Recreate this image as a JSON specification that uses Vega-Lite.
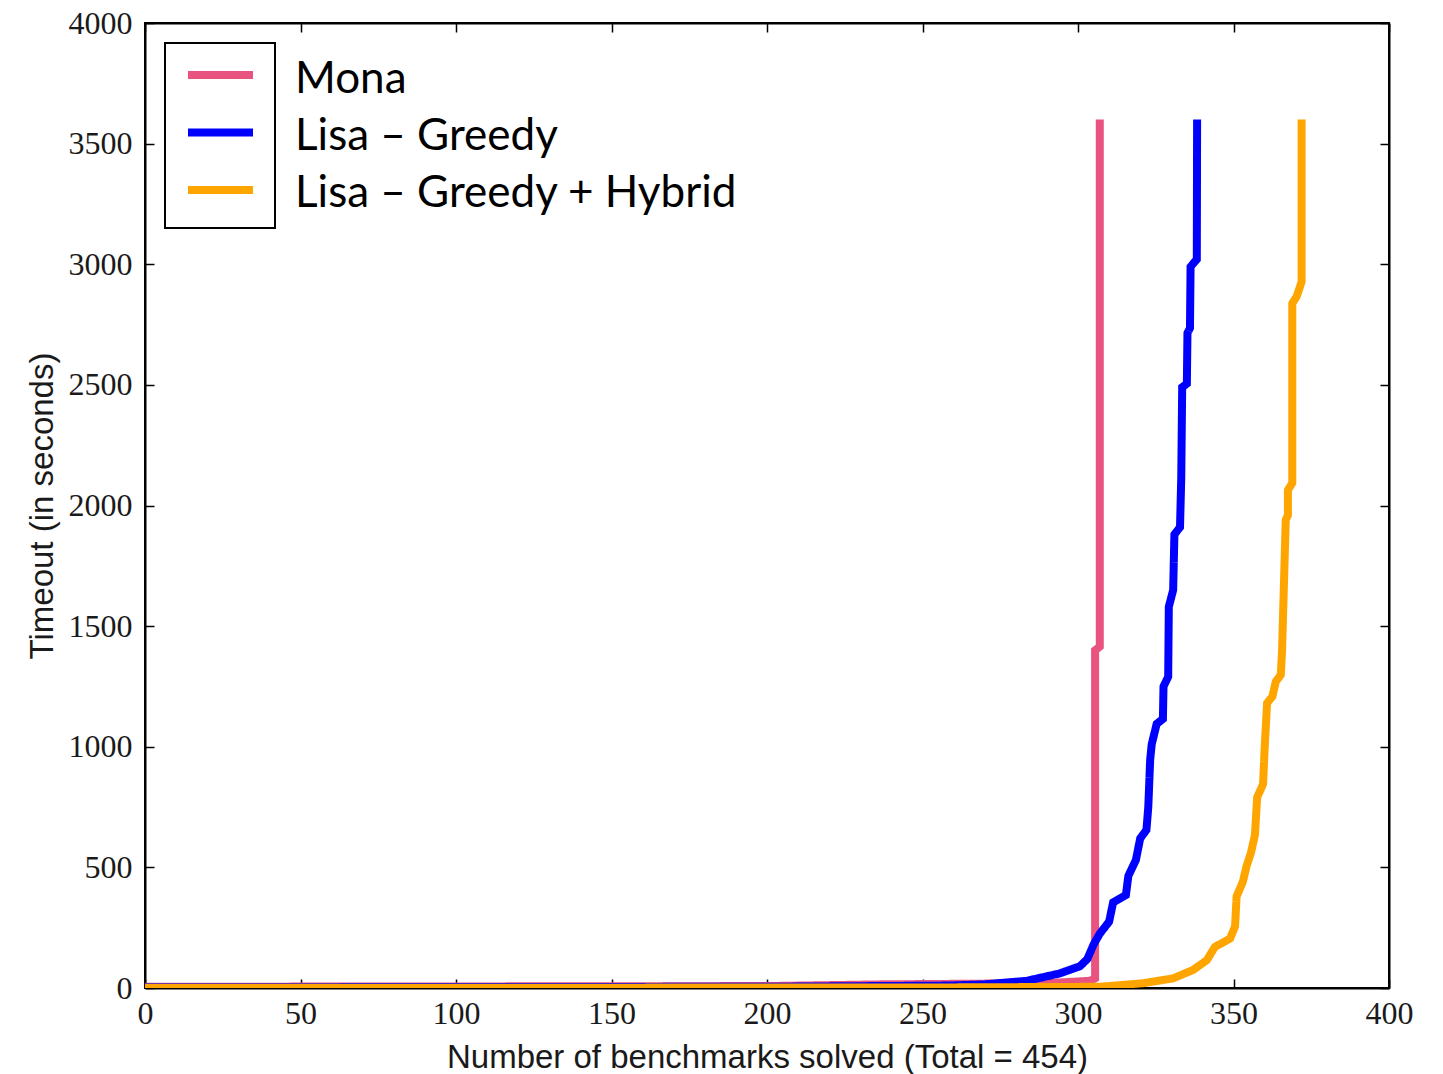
{
  "$schema": "https://vega.github.io/schema/vega-lite/v6.json",
  "width": 1244,
  "height": 965,
  "autosize": "none",
  "padding": {"left": 145, "top": 23, "right": 54, "bottom": 86},
  "background": "white",
  "config": {
    "view": {"stroke": "black", "strokeWidth": 2},
    "axis": {
      "grid": false,
      "domainColor": "black",
      "domainWidth": 2,
      "tickColor": "black",
      "tickWidth": 1.5,
      "tickSize": -9,
      "labelFont": "Liberation Serif",
      "labelFontSize": 32,
      "labelColor": "#1a1a1a",
      "labelFlush": false,
      "labelOverlap": false,
      "titleFont": "Liberation Sans",
      "titleFontSize": 33,
      "titleFontWeight": "normal",
      "titleColor": "#1a1a1a"
    }
  },
  "data": {
    "values": [
      {"series": "Mona", "name": "Mona ", "key": "Mona  ", "i": 0, "x": 0, "t": 5},
      {"series": "Mona", "name": "Mona ", "key": "Mona  ", "i": 1, "x": 200, "t": 8},
      {"series": "Mona", "name": "Mona ", "key": "Mona  ", "i": 2, "x": 236, "t": 15},
      {"series": "Mona", "name": "Mona ", "key": "Mona  ", "i": 3, "x": 290, "t": 20},
      {"series": "Mona", "name": "Mona ", "key": "Mona  ", "i": 4, "x": 304, "t": 30},
      {"series": "Mona", "name": "Mona ", "key": "Mona  ", "i": 5, "x": 305.5, "t": 40},
      {"series": "Mona", "name": "Mona ", "key": "Mona  ", "i": 6, "x": 305.5, "t": 1400},
      {"series": "Mona", "name": "Mona ", "key": "Mona  ", "i": 7, "x": 307, "t": 1415},
      {"series": "Mona", "name": "Mona ", "key": "Mona  ", "i": 8, "x": 307, "t": 3600},

      {"series": "Lisa – Greedy", "name": "Lisa – Greedy ", "key": "Lisa – Greedy  ", "i": 0, "x": 0, "t": 3},
      {"series": "Lisa – Greedy", "name": "Lisa – Greedy ", "key": "Lisa – Greedy  ", "i": 1, "x": 200, "t": 5},
      {"series": "Lisa – Greedy", "name": "Lisa – Greedy ", "key": "Lisa – Greedy  ", "i": 2, "x": 258, "t": 10},
      {"series": "Lisa – Greedy", "name": "Lisa – Greedy ", "key": "Lisa – Greedy  ", "i": 3, "x": 270, "t": 15},
      {"series": "Lisa – Greedy", "name": "Lisa – Greedy ", "key": "Lisa – Greedy  ", "i": 4, "x": 283.6, "t": 30},
      {"series": "Lisa – Greedy", "name": "Lisa – Greedy ", "key": "Lisa – Greedy  ", "i": 5, "x": 294, "t": 60},
      {"series": "Lisa – Greedy", "name": "Lisa – Greedy ", "key": "Lisa – Greedy  ", "i": 6, "x": 300.6, "t": 90},
      {"series": "Lisa – Greedy", "name": "Lisa – Greedy ", "key": "Lisa – Greedy  ", "i": 7, "x": 303, "t": 120},
      {"series": "Lisa – Greedy", "name": "Lisa – Greedy ", "key": "Lisa – Greedy  ", "i": 8, "x": 305, "t": 180},
      {"series": "Lisa – Greedy", "name": "Lisa – Greedy ", "key": "Lisa – Greedy  ", "i": 9, "x": 307, "t": 225},
      {"series": "Lisa – Greedy", "name": "Lisa – Greedy ", "key": "Lisa – Greedy  ", "i": 10, "x": 310, "t": 275},
      {"series": "Lisa – Greedy", "name": "Lisa – Greedy ", "key": "Lisa – Greedy  ", "i": 11, "x": 311.3, "t": 355},
      {"series": "Lisa – Greedy", "name": "Lisa – Greedy ", "key": "Lisa – Greedy  ", "i": 12, "x": 315.4, "t": 385},
      {"series": "Lisa – Greedy", "name": "Lisa – Greedy ", "key": "Lisa – Greedy  ", "i": 13, "x": 316.2, "t": 465},
      {"series": "Lisa – Greedy", "name": "Lisa – Greedy ", "key": "Lisa – Greedy  ", "i": 14, "x": 318.6, "t": 530},
      {"series": "Lisa – Greedy", "name": "Lisa – Greedy ", "key": "Lisa – Greedy  ", "i": 15, "x": 320, "t": 620},
      {"series": "Lisa – Greedy", "name": "Lisa – Greedy ", "key": "Lisa – Greedy  ", "i": 16, "x": 322, "t": 655},
      {"series": "Lisa – Greedy", "name": "Lisa – Greedy ", "key": "Lisa – Greedy  ", "i": 17, "x": 322.6, "t": 750},
      {"series": "Lisa – Greedy", "name": "Lisa – Greedy ", "key": "Lisa – Greedy  ", "i": 18, "x": 323.2, "t": 945},
      {"series": "Lisa – Greedy", "name": "Lisa – Greedy ", "key": "Lisa – Greedy  ", "i": 19, "x": 323.7, "t": 1010},
      {"series": "Lisa – Greedy", "name": "Lisa – Greedy ", "key": "Lisa – Greedy  ", "i": 20, "x": 325.3, "t": 1095},
      {"series": "Lisa – Greedy", "name": "Lisa – Greedy ", "key": "Lisa – Greedy  ", "i": 21, "x": 327.3, "t": 1115},
      {"series": "Lisa – Greedy", "name": "Lisa – Greedy ", "key": "Lisa – Greedy  ", "i": 22, "x": 327.5, "t": 1250},
      {"series": "Lisa – Greedy", "name": "Lisa – Greedy ", "key": "Lisa – Greedy  ", "i": 23, "x": 329, "t": 1290},
      {"series": "Lisa – Greedy", "name": "Lisa – Greedy ", "key": "Lisa – Greedy  ", "i": 24, "x": 329.2, "t": 1580},
      {"series": "Lisa – Greedy", "name": "Lisa – Greedy ", "key": "Lisa – Greedy  ", "i": 25, "x": 330.6, "t": 1650},
      {"series": "Lisa – Greedy", "name": "Lisa – Greedy ", "key": "Lisa – Greedy  ", "i": 26, "x": 331, "t": 1880},
      {"series": "Lisa – Greedy", "name": "Lisa – Greedy ", "key": "Lisa – Greedy  ", "i": 27, "x": 332.8, "t": 1910},
      {"series": "Lisa – Greedy", "name": "Lisa – Greedy ", "key": "Lisa – Greedy  ", "i": 28, "x": 333.2, "t": 2115},
      {"series": "Lisa – Greedy", "name": "Lisa – Greedy ", "key": "Lisa – Greedy  ", "i": 29, "x": 333.5, "t": 2490},
      {"series": "Lisa – Greedy", "name": "Lisa – Greedy ", "key": "Lisa – Greedy  ", "i": 30, "x": 335, "t": 2505},
      {"series": "Lisa – Greedy", "name": "Lisa – Greedy ", "key": "Lisa – Greedy  ", "i": 31, "x": 335.2, "t": 2715},
      {"series": "Lisa – Greedy", "name": "Lisa – Greedy ", "key": "Lisa – Greedy  ", "i": 32, "x": 336, "t": 2735},
      {"series": "Lisa – Greedy", "name": "Lisa – Greedy ", "key": "Lisa – Greedy  ", "i": 33, "x": 336.2, "t": 2990},
      {"series": "Lisa – Greedy", "name": "Lisa – Greedy ", "key": "Lisa – Greedy  ", "i": 34, "x": 338.2, "t": 3020},
      {"series": "Lisa – Greedy", "name": "Lisa – Greedy ", "key": "Lisa – Greedy  ", "i": 35, "x": 338.3, "t": 3600},

      {"series": "Lisa – Greedy + Hybrid", "name": "Lisa – Greedy + Hybrid ", "key": "Lisa – Greedy + Hybrid  ", "i": 0, "x": 0, "t": 1},
      {"series": "Lisa – Greedy + Hybrid", "name": "Lisa – Greedy + Hybrid ", "key": "Lisa – Greedy + Hybrid  ", "i": 1, "x": 150, "t": 1.5},
      {"series": "Lisa – Greedy + Hybrid", "name": "Lisa – Greedy + Hybrid ", "key": "Lisa – Greedy + Hybrid  ", "i": 2, "x": 250, "t": 2},
      {"series": "Lisa – Greedy + Hybrid", "name": "Lisa – Greedy + Hybrid ", "key": "Lisa – Greedy + Hybrid  ", "i": 3, "x": 307, "t": 5},
      {"series": "Lisa – Greedy + Hybrid", "name": "Lisa – Greedy + Hybrid ", "key": "Lisa – Greedy + Hybrid  ", "i": 4, "x": 321, "t": 20},
      {"series": "Lisa – Greedy + Hybrid", "name": "Lisa – Greedy + Hybrid ", "key": "Lisa – Greedy + Hybrid  ", "i": 5, "x": 330.6, "t": 40},
      {"series": "Lisa – Greedy + Hybrid", "name": "Lisa – Greedy + Hybrid ", "key": "Lisa – Greedy + Hybrid  ", "i": 6, "x": 337, "t": 75},
      {"series": "Lisa – Greedy + Hybrid", "name": "Lisa – Greedy + Hybrid ", "key": "Lisa – Greedy + Hybrid  ", "i": 7, "x": 341.4, "t": 115},
      {"series": "Lisa – Greedy + Hybrid", "name": "Lisa – Greedy + Hybrid ", "key": "Lisa – Greedy + Hybrid  ", "i": 8, "x": 344, "t": 170},
      {"series": "Lisa – Greedy + Hybrid", "name": "Lisa – Greedy + Hybrid ", "key": "Lisa – Greedy + Hybrid  ", "i": 9, "x": 348.9, "t": 205},
      {"series": "Lisa – Greedy + Hybrid", "name": "Lisa – Greedy + Hybrid ", "key": "Lisa – Greedy + Hybrid  ", "i": 10, "x": 350.5, "t": 255},
      {"series": "Lisa – Greedy + Hybrid", "name": "Lisa – Greedy + Hybrid ", "key": "Lisa – Greedy + Hybrid  ", "i": 11, "x": 351, "t": 380},
      {"series": "Lisa – Greedy + Hybrid", "name": "Lisa – Greedy + Hybrid ", "key": "Lisa – Greedy + Hybrid  ", "i": 12, "x": 353, "t": 440},
      {"series": "Lisa – Greedy + Hybrid", "name": "Lisa – Greedy + Hybrid ", "key": "Lisa – Greedy + Hybrid  ", "i": 13, "x": 354.2, "t": 505},
      {"series": "Lisa – Greedy + Hybrid", "name": "Lisa – Greedy + Hybrid ", "key": "Lisa – Greedy + Hybrid  ", "i": 14, "x": 355.6, "t": 560},
      {"series": "Lisa – Greedy + Hybrid", "name": "Lisa – Greedy + Hybrid ", "key": "Lisa – Greedy + Hybrid  ", "i": 15, "x": 356.9, "t": 635},
      {"series": "Lisa – Greedy + Hybrid", "name": "Lisa – Greedy + Hybrid ", "key": "Lisa – Greedy + Hybrid  ", "i": 16, "x": 357.6, "t": 790},
      {"series": "Lisa – Greedy + Hybrid", "name": "Lisa – Greedy + Hybrid ", "key": "Lisa – Greedy + Hybrid  ", "i": 17, "x": 359.5, "t": 845},
      {"series": "Lisa – Greedy + Hybrid", "name": "Lisa – Greedy + Hybrid ", "key": "Lisa – Greedy + Hybrid  ", "i": 18, "x": 360, "t": 990},
      {"series": "Lisa – Greedy + Hybrid", "name": "Lisa – Greedy + Hybrid ", "key": "Lisa – Greedy + Hybrid  ", "i": 19, "x": 360.8, "t": 1181},
      {"series": "Lisa – Greedy + Hybrid", "name": "Lisa – Greedy + Hybrid ", "key": "Lisa – Greedy + Hybrid  ", "i": 20, "x": 362.5, "t": 1208},
      {"series": "Lisa – Greedy + Hybrid", "name": "Lisa – Greedy + Hybrid ", "key": "Lisa – Greedy + Hybrid  ", "i": 21, "x": 363.6, "t": 1270},
      {"series": "Lisa – Greedy + Hybrid", "name": "Lisa – Greedy + Hybrid ", "key": "Lisa – Greedy + Hybrid  ", "i": 22, "x": 365.2, "t": 1298},
      {"series": "Lisa – Greedy + Hybrid", "name": "Lisa – Greedy + Hybrid ", "key": "Lisa – Greedy + Hybrid  ", "i": 23, "x": 365.6, "t": 1394},
      {"series": "Lisa – Greedy + Hybrid", "name": "Lisa – Greedy + Hybrid ", "key": "Lisa – Greedy + Hybrid  ", "i": 24, "x": 366.8, "t": 1940},
      {"series": "Lisa – Greedy + Hybrid", "name": "Lisa – Greedy + Hybrid ", "key": "Lisa – Greedy + Hybrid  ", "i": 25, "x": 367.5, "t": 1960},
      {"series": "Lisa – Greedy + Hybrid", "name": "Lisa – Greedy + Hybrid ", "key": "Lisa – Greedy + Hybrid  ", "i": 26, "x": 367.5, "t": 2064},
      {"series": "Lisa – Greedy + Hybrid", "name": "Lisa – Greedy + Hybrid ", "key": "Lisa – Greedy + Hybrid  ", "i": 27, "x": 368.9, "t": 2093},
      {"series": "Lisa – Greedy + Hybrid", "name": "Lisa – Greedy + Hybrid ", "key": "Lisa – Greedy + Hybrid  ", "i": 28, "x": 368.9, "t": 2838},
      {"series": "Lisa – Greedy + Hybrid", "name": "Lisa – Greedy + Hybrid ", "key": "Lisa – Greedy + Hybrid  ", "i": 29, "x": 370.3, "t": 2866},
      {"series": "Lisa – Greedy + Hybrid", "name": "Lisa – Greedy + Hybrid ", "key": "Lisa – Greedy + Hybrid  ", "i": 30, "x": 371.4, "t": 2908},
      {"series": "Lisa – Greedy + Hybrid", "name": "Lisa – Greedy + Hybrid ", "key": "Lisa – Greedy + Hybrid  ", "i": 31, "x": 371.9, "t": 2928},
      {"series": "Lisa – Greedy + Hybrid", "name": "Lisa – Greedy + Hybrid ", "key": "Lisa – Greedy + Hybrid  ", "i": 32, "x": 371.9, "t": 3600}
    ]
  },
  "layer": [
    {
      "mark": {"type": "line", "strokeWidth": 8, "clip": true, "strokeCap": "butt"},
      "encoding": {
        "x": {
          "field": "x", "type": "quantitative",
          "scale": {"domain": [0, 400], "nice": false, "zero": false},
          "axis": {
            "orient": "bottom",
            "values": [0, 50, 100, 150, 200, 250, 300, 350, 400],
            "labelPadding": 19,
            "title": "Number of benchmarks solved (Total = 454)",
            "titlePadding": 12
          }
        },
        "y": {
          "field": "t", "type": "quantitative",
          "scale": {"domain": [0, 4000], "nice": false},
          "axis": {
            "orient": "left",
            "format": "d",
            "values": [0, 500, 1000, 1500, 2000, 2500, 3000, 3500, 4000],
            "labelPadding": 22,
            "title": "Timeout (in seconds)",
            "titlePadding": 9
          }
        },
        "order": {"field": "i", "type": "quantitative"},
        "opacity": {
          "field": "key", "type": "nominal",
          "scale": {
            "domain": ["Mona  ", "Lisa – Greedy  ", "Lisa – Greedy + Hybrid  "],
            "range": [1, 1, 1]
          },
          "legend": {
            "orient": "none",
            "legendX": 20,
            "legendY": 20,
            "title": null,
            "padding": 0,
            "strokeColor": "black",
            "symbolType": "stroke",
            "symbolSize": 12100,
            "symbolStrokeWidth": 0,
            "symbolStrokeColor": "transparent",
            "symbolFillColor": "transparent",
            "labelExpr": "''",
            "labelFontSize": 1,
            "labelOffset": 0,
            "rowPadding": 10,
            "encode": {"legend": {"update": {"strokeWidth": {"value": 2}}}}
          }
        },
        "color": {
          "field": "series", "type": "nominal",
          "scale": {
            "domain": ["Mona", "Lisa – Greedy", "Lisa – Greedy + Hybrid"],
            "range": ["#E8537F", "#0000FF", "#FFA500"]
          },
          "legend": {
            "orient": "none",
            "legendX": 39,
            "legendY": 15.5,
            "title": null,
            "padding": 0,
            "symbolType": "stroke",
            "symbolStrokeWidth": 8,
            "symbolSize": 4225,
            "labelExpr": "''",
            "labelFontSize": 1,
            "labelOffset": 0,
            "rowPadding": 4.5
          }
        },
        "strokeDash": {
          "field": "name", "type": "nominal",
          "scale": {
            "domain": ["Mona ", "Lisa – Greedy ", "Lisa – Greedy + Hybrid "],
            "range": [[1, 0], [1, 0], [1, 0]]
          },
          "legend": {
            "orient": "none",
            "legendX": 39,
            "legendY": 21.5,
            "title": null,
            "padding": 0,
            "symbolType": "stroke",
            "symbolStrokeWidth": 8,
            "symbolSize": 3844,
            "symbolOpacity": 0,
            "symbolStrokeColor": "transparent",
            "labelFont": "Lato",
            "labelFontSize": 44,
            "labelColor": "black",
            "labelOffset": 41,
            "labelLimit": 800,
            "rowPadding": 0
          }
        }
      }
    },
    {
      "mark": {"type": "line", "opacity": 0, "clip": true},
      "encoding": {
        "x": {
          "field": "x", "type": "quantitative",
          "axis": {"orient": "top", "values": [0, 50, 100, 150, 200, 250, 300, 350, 400], "labels": false, "title": null}
        },
        "y": {
          "field": "t", "type": "quantitative",
          "axis": {"orient": "right", "values": [0, 500, 1000, 1500, 2000, 2500, 3000, 3500, 4000], "labels": false, "title": null}
        },
        "detail": {"field": "series", "type": "nominal"},
        "order": {"field": "i", "type": "quantitative"}
      }
    }
  ],
  "resolve": {"axis": {"x": "independent", "y": "independent"}}
}
